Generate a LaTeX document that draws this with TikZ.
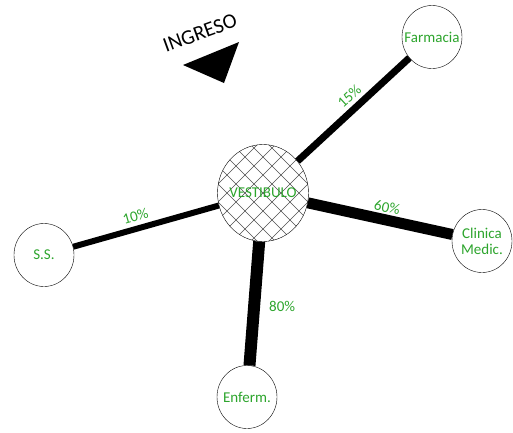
\documentclass[tikz,border=0pt]{standalone}
\usepackage{fontspec}
\setmainfont{Carlito}
\usepackage{xcolor}
\definecolor{lbl}{RGB}{45,165,45}
\definecolor{hatch}{RGB}{80,80,80}
\usetikzlibrary{calc}
\usetikzlibrary{shapes.geometric}
\tikzset{
  room/.style={ellipse,draw,thin,fill=white,inner sep=0pt,minimum width=60pt,minimum height=63pt},
  roomtext/.style={text=lbl,font=\fontsize{15}{16}\selectfont,align=center},
  pct/.style={text=lbl,font=\fontsize{15}{16}\selectfont,inner sep=1pt},
  hatchline/.style={hatch,line width=0.6pt},
  flow/.style={line cap=butt},
}
\newcommand{\ver}[2]{\coordinate (#1) at (#2);}

\begin{document}
\begin{tikzpicture}[x=1pt,y=-1pt]
    \useasboundingbox (0,0) rectangle (513,432);
      \node[room,minimum width=91pt,minimum height=97pt,
        path picture={
          \foreach \k in {-7,...,7}{
            \draw[hatchline] ([shift={(\k*18-70,-70)}]path picture bounding box.center) -- ++(140,140);
            \draw[hatchline] ([shift={(\k*18-70,70)}]path picture bounding box.center) -- ++(140,-140);
          }
        },
        label={[roomtext,fill=none]center:VESTIBULO}] (v) at (263,193) {};
      \node[room,label={[roomtext]center:Farmacia}] (f) at (432,37) {};
      \node[room,label={[roomtext]center:Clinica\\Medic.}] (c) at (482,241) {};
      \node[room,label={[roomtext]center:S.S.}] (s) at (44,255) {};
      \node[room,label={[roomtext]center:Enferm.}] (e) at (247,397) {};

      \draw[flow,line width=6pt] (s) -- node[pct,pos=0.45,sloped,above=3pt] (p10) {10\%} (v);
      \draw[flow,line width=7pt] (v) -- node[pct,pos=0.54,sloped,above=3pt] (p15) {15\%} (f);
      \draw[flow,line width=11pt] (v) -- node[pct,pos=0.53,sloped,above=1pt] (p60) {60\%} (c);
      \draw[flow,line width=12pt] (v) -- node[pct,pos=0.52,right=8pt] (p80) {80\%} (e);

      \node[font=\fontsize{21}{22}\selectfont,rotate=20] (ing) at (200,33) {INGRESO};
      \ver{t1}{183,65}
      \ver{t2}{239,42}
      \ver{t3}{224,83}
      \fill (t1) -- (t2) -- (t3) -- cycle;
\end{tikzpicture}
\end{document}
